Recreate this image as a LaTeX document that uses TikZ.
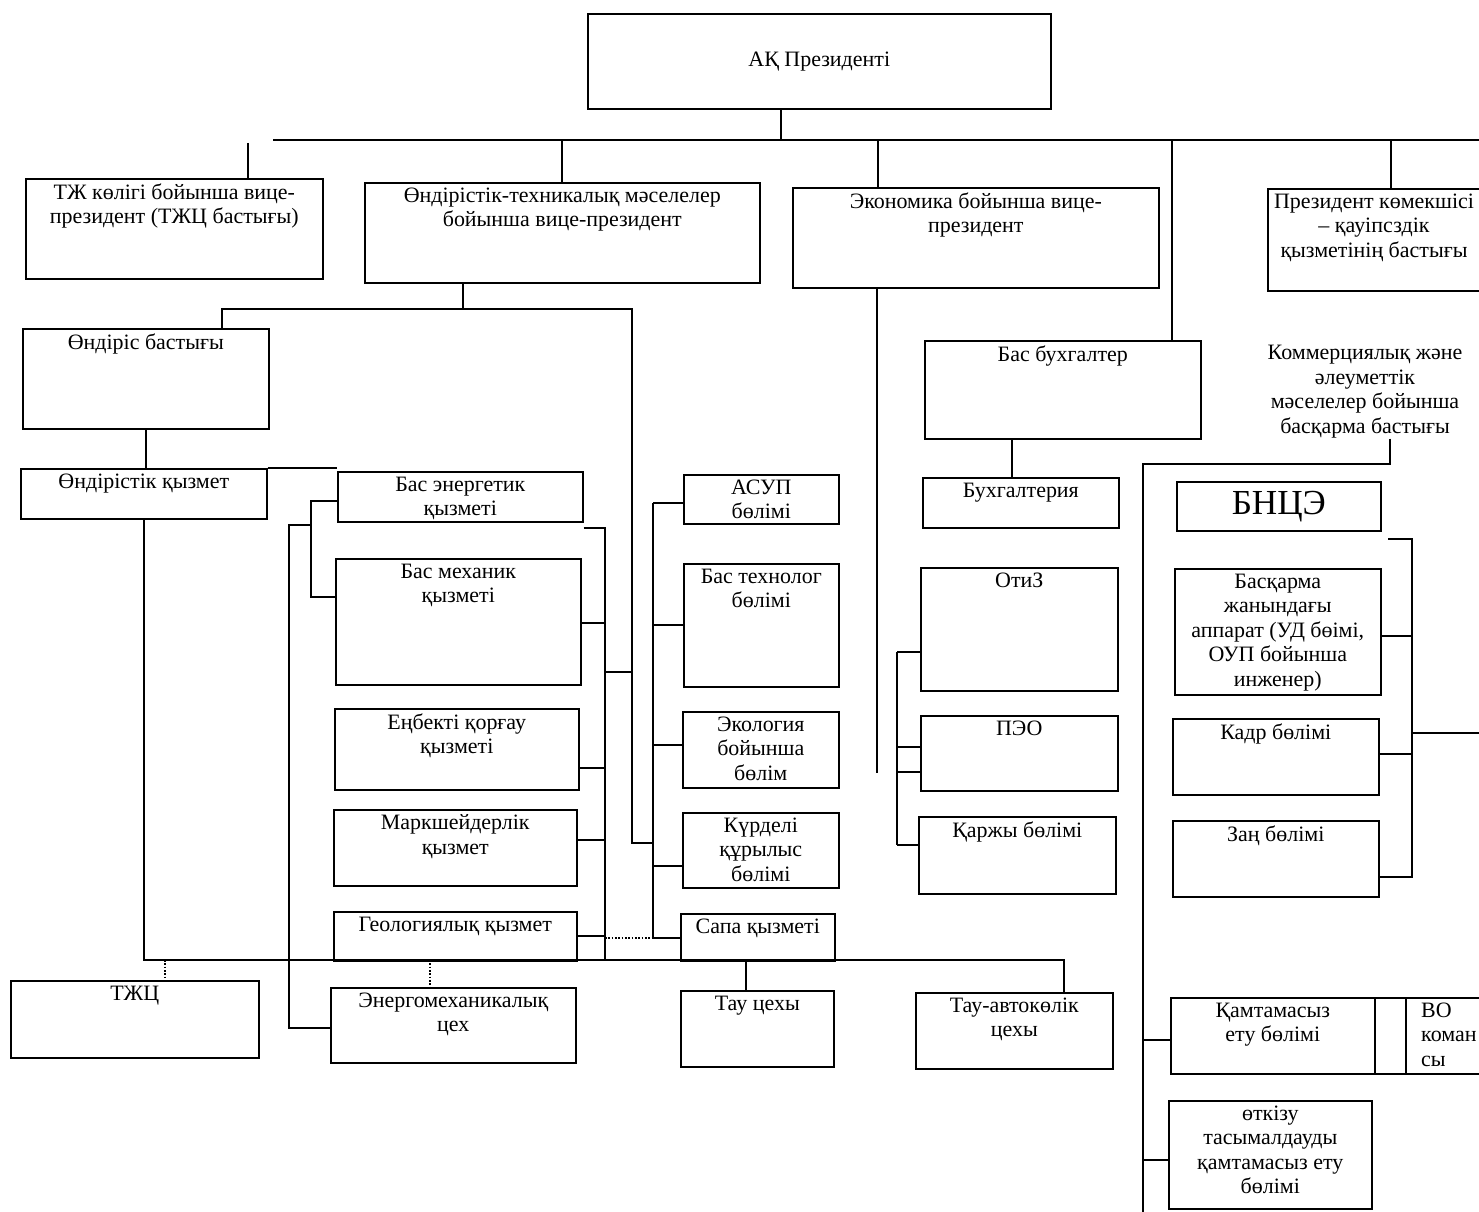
\documentclass[tikz,border=0pt]{standalone}
\usepackage{fontspec}
\setmainfont{Liberation Serif}
\usetikzlibrary{positioning, calc}
\newcommand{\orgfont}{\fontsize{12.5}{14}\selectfont}

\begin{document}
\begin{tikzpicture}[
x=0.02cm, y=-0.02cm,
orgbox/.style={draw, line width=0.9pt, anchor=north west, inner sep=0pt},
boxsize/.style 2 args={minimum width=#1*0.02cm, minimum height=#2*0.02cm},
toptext/.style={anchor=north, inner sep=3pt, align=center, font=\orgfont},
link/.style={line width=0.9pt},
dotlink/.style={line width=0.9pt, densely dotted}
]
\useasboundingbox (0,0) rectangle (1479,1212);

%Nodes: top level
\node[orgbox, boxsize={463}{95}, font=\orgfont] (pres) at (587,13) {АҚ Президенті};
\node[orgbox, boxsize={297}{100}, label={[toptext]north:{ТЖ көлігі бойынша вице-\\президент (ТЖЦ бастығы)}}] (tzh) at (25,178) {};
\node[orgbox, boxsize={395}{100}, label={[toptext]north:{Өндірістік-техникалық мәселелер\\бойынша вице-президент}}] (pvp) at (364,182) {};
\node[orgbox, boxsize={366}{100}, label={[toptext]north:{Экономика бойынша вице-\\президент}}] (eco) at (792,187) {};
\node[orgbox, boxsize={230}{102}, label={[toptext, xshift=-5pt]north:{Президент көмекшісі\\– қауіпсздік\\қызметінің бастығы}}] (asst) at (1267,188) {};

%Nodes: production
\node[orgbox, boxsize={246}{100}, label={[toptext]north:{Өндіріс бастығы}}] (obas) at (22,328) {};
\node[orgbox, boxsize={246}{50}, label={[toptext]north:{Өндірістік қызмет}}] (oq) at (20,468) {};
\node[orgbox, boxsize={245}{50}, label={[toptext]north:{Бас энергетик\\қызметі}}] (basen) at (337,471) {};
\node[orgbox, boxsize={245}{126}, label={[toptext]north:{Бас механик\\қызметі}}] (basmex) at (335,558) {};
\node[orgbox, boxsize={244}{81}, label={[toptext]north:{Еңбекті қорғау\\қызметі}}] (enb) at (334,708) {};
\node[orgbox, boxsize={243}{76}, label={[toptext]north:{Маркшейдерлік\\қызмет}}] (mark) at (333,809) {};
\node[orgbox, boxsize={243}{49}, label={[toptext]north:{Геологиялық қызмет}}] (geo) at (333,911) {};
\node[orgbox, boxsize={245}{75}, label={[toptext]north:{Энергомеханикалық\\цех}}] (energm) at (330,987) {};
\node[orgbox, boxsize={248}{77}, label={[toptext]north:{ТЖЦ}}] (tzhc) at (10,980) {};
\node[orgbox, boxsize={155}{49}, label={[toptext]north:{АСУП\\бөлімі}}] (asup) at (683,474) {};
\node[orgbox, boxsize={155}{123}, label={[toptext]north:{Бас технолог\\бөлімі}}] (bastex) at (683,563) {};
\node[orgbox, boxsize={156}{76}, label={[toptext]north:{Экология\\бойынша\\бөлім}}] (ekol) at (682,711) {};
\node[orgbox, boxsize={156}{75}, label={[toptext]north:{Күрделі\\құрылыс\\бөлімі}}] (kurd) at (682,812) {};
\node[orgbox, boxsize={154}{47}, label={[toptext]north:{Сапа қызметі}}] (sapa) at (680,913) {};
\node[orgbox, boxsize={153}{76}, label={[toptext]north:{Тау цехы}}] (tauc) at (680,990) {};

%Nodes: economics
\node[orgbox, boxsize={276}{98}, label={[toptext]north:{Бас бухгалтер}}] (bbuh) at (924,340) {};
\node[orgbox, boxsize={196}{50}, label={[toptext]north:{Бухгалтерия}}] (buhg) at (922,477) {};
\node[orgbox, boxsize={197}{123}, label={[toptext]north:{ОтиЗ}}] (otiz) at (920,567) {};
\node[orgbox, boxsize={197}{75}, label={[toptext]north:{ПЭО}}] (peo) at (920,715) {};
\node[orgbox, boxsize={197}{77}, label={[toptext]north:{Қаржы бөлімі}}] (karzhy) at (918,816) {};
\node[orgbox, boxsize={197}{76}, label={[toptext]north:{Тау-автокөлік\\цехы}}] (taua) at (915,992) {};

%Nodes: commercial
\node[font=\orgfont, align=center, anchor=north, inner sep=0pt] (comm) at (1365,345) {Коммерциялық және\\әлеуметтік\\мәселелер бойынша\\басқарма бастығы};
\node[orgbox, boxsize={204}{49}, font=\fontsize{20}{22}\selectfont] (bnce) at (1176,481) {БНЦЭ};
\node[orgbox, boxsize={206}{126}, label={[toptext]north:{Басқарма\\жанындағы\\аппарат (УД бөімі,\\ОУП бойынша\\инженер)}}] (bask) at (1174,568) {};
\node[orgbox, boxsize={206}{76}, label={[toptext]north:{Кадр бөлімі}}] (kadr) at (1172,718) {};
\node[orgbox, boxsize={206}{76}, label={[toptext]north:{Заң бөлімі}}] (zan) at (1172,820) {};
\node[orgbox, boxsize={204}{76}, label={[toptext]north:{Қамтамасыз\\ету бөлімі}}] (kamt) at (1170,997) {};
\node[orgbox, boxsize={31}{76}] (kamtgap) at (1374,997) {};
\node[orgbox, boxsize={100}{76}, label={[toptext, anchor=north west, align=left, xshift=6pt]north west:{ВО\\коман\\сы}}] (vo) at (1405,997) {};
\node[orgbox, boxsize={203}{108}, label={[toptext]north:{өткізу\\тасымалдауды\\қамтамасыз ету\\бөлімі}}] (otk) at (1168,1100) {};

%Connectors: main bus
\coordinate (busL) at (273,140);
\coordinate (busR) at (1479,140);
\coordinate (tzhtick) at (248,143);
\draw[link] (busL) -- (busR);
\draw[link] (781,140 |- pres.south) -- (781,140);
\draw[link] (tzhtick) -- (tzhtick |- tzh.north);
\foreach \bx/\tgt in {562/pvp, 878/eco, 1172/bbuh, 1391/asst}
  \draw[link] (\bx,140) -- (\bx,140 |- \tgt.north);

%Connectors: production
\draw[link] (463,0 |- pvp.south) -- (463,309);
\draw[link] (222,309 |- obas.north) -- (222,309) -- (632,309) -- (632,843) -- (653,843);
\draw[link] (obas.south) -- (obas.south |- oq.north);
\draw[link] (oq.north east) -- (oq.north east -| basen.west);
\draw[link] (oq.south) -- (oq.south |- 0,960) -- (1064,960) -- (1064,960 |- taua.north);
\draw[link] (746,960) -- (746,960 |- tauc.north);
\draw[dotlink] (165,960) -- (165,960 |- tzhc.north);
\draw[dotlink] (430,960) -- (430,960 |- energm.north);
\draw[link] (basen.west |- 0,501) -- (311,501) -- (311,597) -- (311,597 -| basmex.west);
\draw[link] (311,525) -- (289,525) -- (289,1028) -- (289,1028 -| energm.west);
\draw[link] (basen.east |- 0,528) -- (605,528) -- (605,960);
\foreach \by/\src in {623/basmex, 768/enb, 840/mark, 936/geo}
  \draw[link] (\src.east |- 0,\by) -- (605,\by);
\draw[link] (605,672) -- (632,672);
\draw[dotlink] (605,938) -- (653,938);
\draw[link] (653,503) -- (653,938);
\foreach \by/\tgt in {503/asup, 625/bastex, 745/ekol, 866/kurd, 938/sapa}
  \draw[link] (653,\by) -- (653,\by -| \tgt.west);

%Connectors: economics
\coordinate (ecoend) at (877,773);
\draw[link] (ecoend |- eco.south) -- (ecoend);
\draw[link] (1012,0 |- bbuh.south) -- (1012,0 |- buhg.north);
\draw[link] (897,652) -- (897,845);
\foreach \by/\tgt in {652/otiz, 747/peo, 772/peo, 845/karzhy}
  \draw[link] (897,\by) -- (897,\by -| \tgt.west);

%Connectors: commercial
\draw[link] (1390,0 |- comm.south) -- (1390,464) -- (1143,464) -- (1143,1212);
\foreach \by/\tgt in {1040/kamt, 1160/otk}
  \draw[link] (1143,\by) -- (1143,\by -| \tgt.west);
\draw[link] (1388,539) -- (1412,539) -- (1412,877) -- (1412,877 -| zan.east);
\foreach \by/\tgt in {636/bask, 754/kadr}
  \draw[link] (1412,\by) -- (1412,\by -| \tgt.east);
\draw[link] (1412,733) -- (1479,733);
\end{tikzpicture}
\end{document}
